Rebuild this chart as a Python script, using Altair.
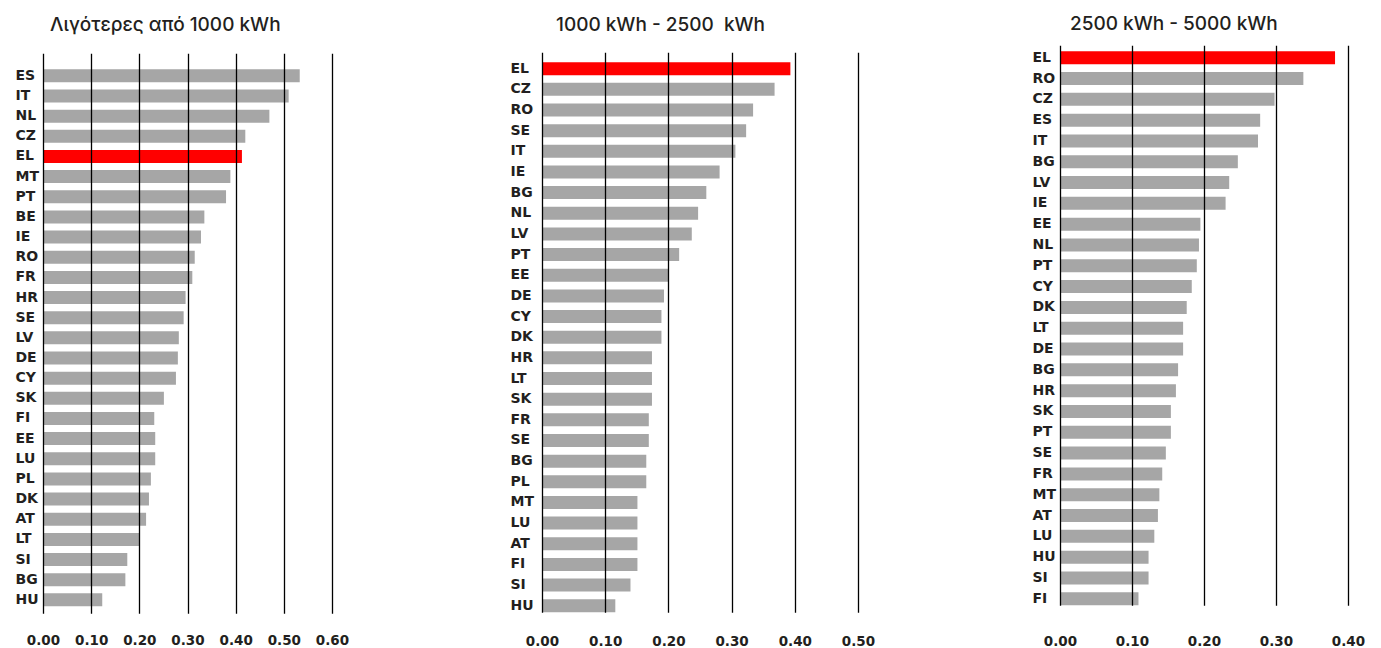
import altair as alt
import pandas as pd

titles = ["Λιγότερες από 1000 kWh", "1000 kWh - 2500\u00a0 kWh", "2500 kWh - 5000 kWh"]

p1_countries = ["ES", "IT", "NL", "CZ", "EL", "MT", "PT", "BE", "IE", "RO", "FR", "HR", "SE", "LV",
                "DE", "CY", "SK", "FI", "EE", "LU", "PL", "DK", "AT", "LT", "SI", "BG", "HU"]
p1_values = [0.533, 0.510, 0.470, 0.420, 0.413, 0.389, 0.380, 0.335, 0.328, 0.315, 0.310, 0.296, 0.292, 0.282,
             0.280, 0.276, 0.251, 0.231, 0.233, 0.233, 0.224, 0.220, 0.214, 0.200, 0.175, 0.171, 0.123]

p2_countries = ["EL", "CZ", "RO", "SE", "IT", "IE", "BG", "NL", "LV", "PT", "EE", "DE", "CY", "DK",
                "HR", "LT", "SK", "FR", "SE", "BG", "PL", "MT", "LU", "AT", "FI", "SI", "HU"]
p2_values = [0.393, 0.368, 0.334, 0.323, 0.306, 0.281, 0.260, 0.247, 0.237, 0.217, 0.200, 0.193, 0.189, 0.189,
             0.174, 0.174, 0.174, 0.169, 0.169, 0.165, 0.165, 0.151, 0.151, 0.151, 0.151, 0.140, 0.116]

p3_countries = ["EL", "RO", "CZ", "ES", "IT", "BG", "LV", "IE", "EE", "NL", "PT", "CY", "DK", "LT",
                "DE", "BG", "HR", "SK", "PT", "SE", "FR", "MT", "AT", "LU", "HU", "SI", "FI"]
p3_values = [0.382, 0.338, 0.298, 0.278, 0.275, 0.247, 0.235, 0.230, 0.195, 0.193, 0.190, 0.183, 0.176, 0.171,
             0.171, 0.164, 0.161, 0.154, 0.154, 0.147, 0.142, 0.138, 0.136, 0.131, 0.123, 0.123, 0.109]

x_max = [0.6, 0.5, 0.4]

LABEL_FONT = "DejaVu Sans"
TEXT_COLOR = "#231f20"


def make_df(countries, values):
    return pd.DataFrame({
        "key": [f"{i:02d}|{c}" for i, c in enumerate(countries)],
        "value": values,
        "group": ["EL" if c == "EL" else "other" for c in countries],
    })


def panel(countries, values, title, xmax, width, height, title_dx, title_offset,
          ypad, ymin, xlabpad, pi, po, align, extra_bottom=None):
    df = make_df(countries, values)
    ticks = [round(i * 0.1, 2) for i in range(int(round(xmax * 10)) + 1)]
    xaxis_kw = dict(values=ticks, format=".2f", grid=True,
                    gridColor="black", gridWidth=1.3, domain=False, ticks=False,
                    labelPadding=xlabpad, labelFlush=False, labelOverlap=False,
                    labelFont=LABEL_FONT, labelFontWeight="bold",
                    labelFontSize=13.5, labelColor=TEXT_COLOR, zindex=1)
    if extra_bottom is None:
        xaxis_kw["title"] = None
    else:
        xaxis_kw.update(title=" ", titleFontSize=1, titlePadding=extra_bottom)
    return alt.Chart(df).mark_bar().encode(
        y=alt.Y("key:N", sort="ascending",
                scale=alt.Scale(paddingInner=pi, paddingOuter=po, align=align),
                axis=alt.Axis(title=None, labelExpr="split(datum.value, '|')[1]",
                              labelAlign="left", labelPadding=ypad, minExtent=ymin,
                              ticks=False, domain=False, grid=False,
                              labelFont=LABEL_FONT, labelFontWeight="bold",
                              labelFontSize=14, labelColor=TEXT_COLOR)),
        x=alt.X("value:Q",
                scale=alt.Scale(domain=[0, xmax], nice=False, zero=True),
                axis=alt.Axis(**xaxis_kw)),
        color=alt.Color("group:N", legend=None,
                        scale=alt.Scale(domain=["EL", "other"], range=["#ff0000", "#a6a6a6"])),
    ).properties(
        width=width, height=height,
        title=alt.TitleParams(title, anchor="start", frame="group", dx=title_dx, offset=title_offset,
                              font="Inter", fontSize=19, fontWeight=500, color=TEXT_COLOR),
    )


c1 = panel(p1_countries, p1_values, titles[0], x_max[0], 289, 560, 7, 18, 28, 28, 20, 0.355, 0.57, 0.70)
c2 = panel(p2_countries, p2_values, titles[1], x_max[1], 316, 560, 14, 17, 32, 36, 22, 0.37, 0.24, 1.0)
c3 = panel(p3_countries, p3_values, titles[2], x_max[2], 288, 560, 10, 11, 28, 28, 29, 0.375, 0.143, 1.0,
           extra_bottom=6)

chart = alt.HConcatChart(hconcat=[c1, c2, c3], spacing=157, center=True).properties(
    padding={"left": 7, "top": 7, "right": 5, "bottom": 5}
).configure_view(stroke=None)

chart.save("out.html", embed_options={"renderer": "svg", "actions": False})
